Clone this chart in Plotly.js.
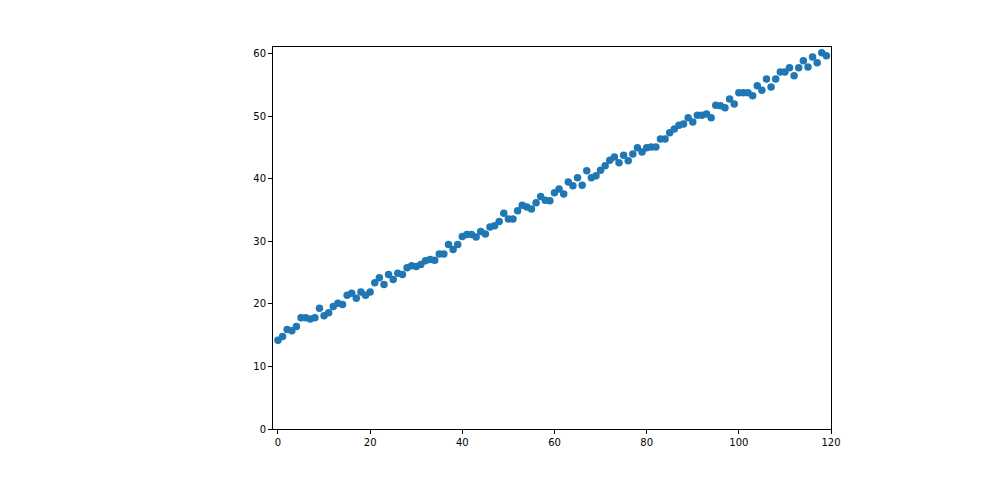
<!DOCTYPE html>
<html>
<head>
<meta charset="utf-8">
<script src="https://cdn.plot.ly/plotly-3.0.1.min.js"></script>
<style>html,body{margin:0;padding:0;background:#fff;}#chart{width:991px;height:483px;}</style>
</head>
<body>
<div id="chart"></div>
<script>
const xValues = Array.from({length: 120}, (_, i) => i);
const yValues = [
  14.2, 14.8, 15.9, 15.7, 16.4, 17.8, 17.8, 17.6, 17.8, 19.3,
  18.1, 18.6, 19.6, 20.1, 19.9, 21.4, 21.7, 20.9, 21.9, 21.4,
  21.9, 23.4, 24.2, 23.1, 24.7, 23.9, 24.9, 24.7, 25.8, 26.1,
  26.0, 26.3, 26.9, 27.1, 27.0, 28.0, 28.0, 29.5, 28.7, 29.5,
  30.8, 31.1, 31.1, 30.7, 31.6, 31.2, 32.3, 32.5, 33.2, 34.5,
  33.6, 33.6, 34.9, 35.8, 35.5, 35.2, 36.2, 37.2, 36.6, 36.5,
  37.8, 38.4, 37.6, 39.5, 38.9, 40.2, 39.0, 41.3, 40.2, 40.5,
  41.4, 42.1, 43.0, 43.5, 42.6, 43.8, 42.9, 44.0, 45.0, 44.3,
  45.0, 45.1, 45.1, 46.4, 46.4, 47.4, 48.0, 48.6, 48.8, 49.8,
  49.1, 50.2, 50.2, 50.4, 49.8, 51.8, 51.7, 51.4, 52.8, 52.0,
  53.8, 53.8, 53.8, 53.3, 54.9, 54.2, 56.0, 54.7, 56.0, 57.1,
  57.1, 57.8, 56.5, 57.8, 58.9, 57.9, 59.5, 58.6, 60.2, 59.7
];
const xTicks = [0, 20, 40, 60, 80, 100, 120];
const yTicks = [0, 10, 20, 30, 40, 50, 60];

const axisCommon = {
  showline: true, mirror: true, linecolor: '#000', linewidth: 1,
  ticks: 'outside', ticklen: 4, tickwidth: 1, tickcolor: '#000',
  showgrid: false, zeroline: false,
  tickfont: {family: 'DejaVu Sans', size: 10, color: '#000'},
  tickmode: 'array'
};

Plotly.newPlot('chart', [{
  x: xValues, y: yValues, type: 'scatter', mode: 'markers',
  marker: {color: '#1f77b4', size: 7.5}
}], {
  width: 991, height: 483,
  margin: {l: 273, r: 160, t: 47, b: 54},
  paper_bgcolor: '#fff', plot_bgcolor: '#fff',
  showlegend: false,
  xaxis: Object.assign({}, axisCommon, {range: [-1.08, 120], tickvals: xTicks, ticktext: xTicks.map(String)}),
  yaxis: Object.assign({}, axisCommon, {range: [0, 61.1], tickvals: yTicks, ticktext: yTicks.map(String)})
}, {displayModeBar: false});
</script>
</body>
</html>
